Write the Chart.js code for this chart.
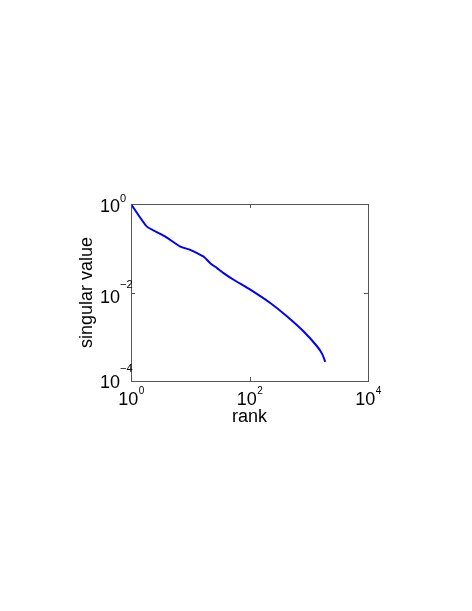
<!DOCTYPE html>
<html>
<head>
<meta charset="utf-8">
<script src="https://cdn.jsdelivr.net/npm/chart.js@4.4.1/dist/chart.umd.min.js"></script>
<style>
  html,body{margin:0;padding:0;background:#fff;}
  canvas{display:block;}
</style>
</head>
<body>
<canvas id="myChart" width="472" height="611"></canvas>
<script>
// singular value spectrum
var rank = [1, 1.86, 3.79, 6.79, 10, 14.8, 16.8, 21.8, 28.3, 36.5, 54, 103, 224, 427, 813, 1380, 1700, 1900];
var singularValue = [1, 0.308, 0.184, 0.109, 0.092, 0.071, 0.065, 0.046, 0.0356, 0.0275, 0.0194, 0.0116, 0.0058, 0.0029, 0.00133, 0.00061, 0.0004, 0.00027];

var xTicks = [1, 100, 10000];
var xTickExp = ["0", "2", "4"];
var yTicks = [1, 0.01, 0.0001];
var yTickExp = ["0", "\u22122", "\u22124"];

var pts = [];
for (var i = 0; i < rank.length; i++) {
  pts.push({x: rank[i], y: singularValue[i]});
}

var FONT = "Liberation Sans, Arial, Helvetica, sans-serif";
// vertical nudge of each y label (base, exponent) like matlab puts them
var yLabOff = [[8, -2.5], [10, -5], [7, -9]];

// box, inward ticks and 10^n labels
var axesPlugin = {
  id: "matlabAxes",
  afterDraw: function(chart) {
    var ctx = chart.ctx;
    var a = chart.chartArea;
    var xs = chart.scales.x, ys = chart.scales.y;
    ctx.save();
    ctx.strokeStyle = "#555";
    ctx.lineWidth = 1;
    ctx.strokeRect(a.left + 0.5, a.top + 0.5, a.right - a.left, a.bottom - a.top);

    ctx.beginPath();
    for (var i = 0; i < xTicks.length; i++) {
      var px = Math.round(xs.getPixelForValue(xTicks[i])) + 0.5;
      ctx.moveTo(px, a.bottom); ctx.lineTo(px, a.bottom - 4);
      ctx.moveTo(px, a.top); ctx.lineTo(px, a.top + 4);
    }
    for (var j = 0; j < yTicks.length; j++) {
      var py = Math.round(ys.getPixelForValue(yTicks[j])) + 0.5;
      ctx.moveTo(a.left, py); ctx.lineTo(a.left + 4, py);
      ctx.moveTo(a.right, py); ctx.lineTo(a.right - 4, py);
    }
    ctx.stroke();

    ctx.fillStyle = "#000";
    ctx.textBaseline = "alphabetic";
    ctx.textAlign = "left";
    // x labels
    for (var i = 0; i < xTicks.length; i++) {
      var px = xs.getPixelForValue(xTicks[i]);
      ctx.font = "18px " + FONT;
      var wb = ctx.measureText("10").width;
      ctx.font = "10px " + FONT;
      var we = ctx.measureText(xTickExp[i]).width;
      var x0 = px - (wb + we) / 2;
      ctx.font = "18px " + FONT;
      ctx.fillText("10", x0, a.bottom + 24);
      ctx.font = "10px " + FONT;
      ctx.fillText(xTickExp[i], x0 + wb + 0.5, a.bottom + 12.5);
    }
    // y labels
    ctx.font = "18px " + FONT;
    var wb10 = ctx.measureText("10").width;
    for (var j = 0; j < yTicks.length; j++) {
      var py = ys.getPixelForValue(yTicks[j]);
      ctx.font = "18px " + FONT;
      ctx.fillText("10", 120 - wb10, py + yLabOff[j][0]);
      ctx.font = "11px " + FONT;
      ctx.fillText(yTickExp[j], 120, py + yLabOff[j][1]);
    }
    // axis titles
    ctx.font = "18px " + FONT;
    ctx.textAlign = "center";
    ctx.fillText("rank", (a.left + a.right) / 2, a.bottom + 41);
    ctx.save();
    ctx.translate(a.left - 39, (a.top + a.bottom) / 2);
    ctx.rotate(-Math.PI / 2);
    ctx.fillText("singular value", 0, 0);
    ctx.restore();
    ctx.restore();
  }
};

new Chart("myChart", {
  type: "line",
  data: {
    datasets: [{
      data: pts,
      borderColor: "#0000ff",
      borderWidth: 2,
      pointRadius: 0,
      tension: 0.15,
      fill: false
    }]
  },
  options: {
    responsive: false,
    animation: false,
    layout: {padding: {left: 0, right: 104, top: 204, bottom: 189}},
    plugins: {legend: {display: false}, tooltip: {enabled: false}},
    scales: {
      x: {
        type: "logarithmic",
        min: 1,
        max: 10000,
        afterBuildTicks: function(s) { s.ticks = xTicks.map(function(v){ return {value: v}; }); },
        afterFit: function(s) { s.height = 41; },
        ticks: {display: false},
        grid: {display: false},
        border: {display: false}
      },
      y: {
        type: "logarithmic",
        min: 0.0001,
        max: 1,
        afterBuildTicks: function(s) { s.ticks = yTicks.map(function(v){ return {value: v}; }); },
        afterFit: function(s) { s.width = 131; },
        ticks: {display: false},
        grid: {display: false},
        border: {display: false}
      }
    }
  },
  plugins: [axesPlugin]
});
</script>
</body>
</html>
